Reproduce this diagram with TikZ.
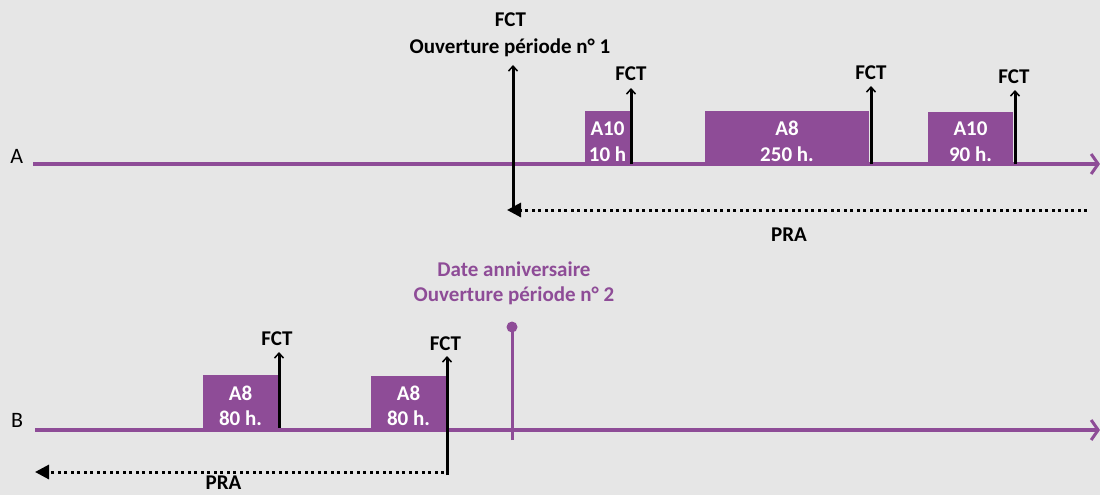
\documentclass[tikz,border=0pt]{standalone}
\usepackage{fontspec}
\setmainfont{Carlito}
\usetikzlibrary{arrows.meta}
\definecolor{bg}{HTML}{E6E6E6}
\definecolor{pur}{HTML}{8E4C97}
\begin{document}
\begin{tikzpicture}[x=1pt,y=-1pt,
  axisline/.style={pur, line width=3.5pt, -{Straight Barb[length=7pt,width=20pt,line width=3pt]}},
  fct/.style={black, line width=3pt, -{Straight Barb[length=5pt,width=9pt,line width=1.5pt]}},
  pra/.style={black, line width=3pt, dash pattern=on 3pt off 3.5pt, -{Triangle[length=14pt,width=14pt]}},
  box/.style={fill=pur, draw=none},
  boxtxt/.style={white, font=\bfseries\fontsize{21}{26}\selectfont, inner sep=0pt, anchor=base},
  lbl/.style={black, font=\bfseries\fontsize{21}{26}\selectfont, inner sep=0pt, anchor=base},
  plbl/.style={pur, font=\bfseries\fontsize{21}{26}\selectfont, inner sep=0pt, anchor=base},
  axlbl/.style={black, font=\fontsize{22}{26}\selectfont, inner sep=0pt, anchor=base},
]
\useasboundingbox[fill=bg] (0,0) rectangle (1100,495);

% ---------- Line A ----------
\fill[box] (585,111) rectangle (630,164);
\fill[box] (705,111) rectangle (869,164);
\fill[box] (928,112) rectangle (1013,164);
\node[boxtxt] (a1t1) at (607.5,135) {A10};
\node[boxtxt] (a1t2) at (607.5,161) {10 h};
\node[boxtxt] (a2t1) at (787,135) {A8};
\node[boxtxt] (a2t2) at (787,161) {250 h.};
\node[boxtxt] (a3t1) at (970.5,135) {A10};
\node[boxtxt] (a3t2) at (970.5,161) {90 h.};

\coordinate (aS) at (33,164);
\coordinate (aE) at (1100,164);
\draw[axisline] (aS) -- (aE);
\node[axlbl] (labA) at (16.7,163) {A};

\coordinate (p1b) at (513,211);
\coordinate (p1t) at (513,65);
\draw[fct] (p1b) -- (p1t);
\node[lbl] (fct0) at (510.5,27) {FCT};
\node[lbl] (ouv1) at (510,53) {Ouverture période n° 1};

\coordinate (f1b) at (631,164);
\coordinate (f1t) at (631,88);
\draw[fct] (f1b) -- (f1t);
\node[lbl] (fct1) at (631,81) {FCT};
\coordinate (f2b) at (871,164);
\coordinate (f2t) at (871,86);
\draw[fct] (f2b) -- (f2t);
\node[lbl] (fct2) at (871,80) {FCT};
\coordinate (f3b) at (1015,164);
\coordinate (f3t) at (1015,90);
\draw[fct] (f3b) -- (f3t);
\node[lbl] (fct3) at (1014,83) {FCT};

\coordinate (praAs) at (1087,210);
\coordinate (praAe) at (507,210);
\draw[pra] (praAs) -- (praAe);
\node[lbl] (praA) at (789,241) {PRA};

% ---------- Line B ----------
\fill[box] (203,375) rectangle (278,430);
\fill[box] (371,376) rectangle (446,430);
\node[boxtxt] (b1t1) at (240.5,400) {A8};
\node[boxtxt] (b1t2) at (240.5,425) {80 h.};
\node[boxtxt] (b2t1) at (408.5,400) {A8};
\node[boxtxt] (b2t2) at (408.5,425) {80 h.};

\coordinate (bS) at (35,430);
\coordinate (bE) at (1100,430);
\draw[axisline] (bS) -- (bE);
\node[axlbl] (labB) at (17,427) {B};

\coordinate (g1b) at (279,428);
\coordinate (g1t) at (279,352);
\draw[fct] (g1b) -- (g1t);
\node[lbl] (fctb1) at (277,345) {FCT};
\coordinate (g2b) at (447,475);
\coordinate (g2t) at (447,356);
\draw[fct] (g2b) -- (g2t);
\node[lbl] (fctb2) at (445.5,350) {FCT};

\coordinate (praBs) at (444,472);
\coordinate (praBe) at (35,472);
\draw[pra] (praBs) -- (praBe);
\node[lbl] (praB) at (223.5,489) {PRA};

\coordinate (dB) at (512,440);
\coordinate (dT) at (512,327);
\draw[pur, line width=3pt] (dB) -- (dT);
\fill[pur] (dT) circle (5.5pt);
\node[plbl] (date1) at (514,276) {Date anniversaire};
\node[plbl] (date2) at (514,301) {Ouverture période n° 2};
\end{tikzpicture}
\end{document}
